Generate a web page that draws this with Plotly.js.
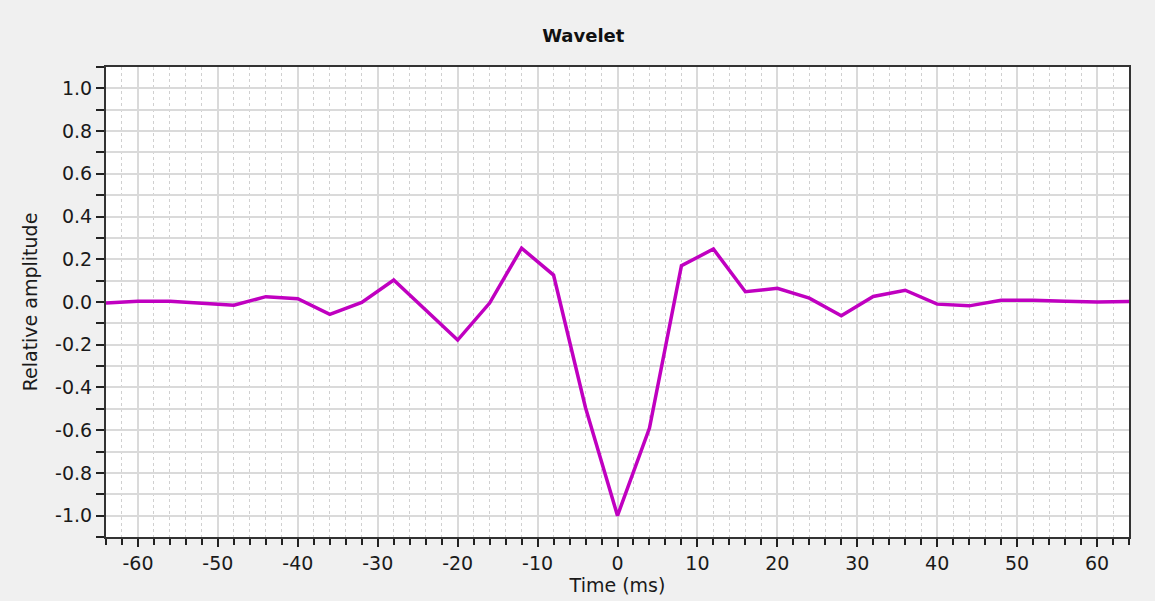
<!DOCTYPE html>
<html>
<head>
<meta charset="utf-8">
<script src="https://cdn.plot.ly/plotly-3.0.1.min.js"></script>
<style>
  html, body { margin: 0; padding: 0; background: #f0f0f0; }
  #chart { width: 1155px; height: 601px; }
</style>
</head>
<body>
<div id="chart"></div>
<script>
// Data
const timeMs = [-64, -60, -56, -52, -48, -44, -40, -36, -32, -28, -24, -20, -16, -12, -8, -4,
                0, 4, 8, 12, 16, 20, 24, 28, 32, 36, 40, 44, 48, 52, 56, 60, 64];
const amplitude = [-0.005, 0.003, 0.004, -0.005, -0.015, 0.025, 0.015, -0.058, -0.002, 0.103,
                   -0.035, -0.178, -0.005, 0.252, 0.126, -0.495, -1.0, -0.59, 0.17, 0.248,
                   0.048, 0.064, 0.018, -0.064, 0.026, 0.055, -0.01, -0.018, 0.008, 0.008,
                   0.003, 0.0, 0.002];
const xTickVals = [-60, -50, -40, -30, -20, -10, 0, 10, 20, 30, 40, 50, 60];
const xTickText = ["-60", "-50", "-40", "-30", "-20", "-10", "0", "10", "20", "30", "40", "50", "60"];
const yTickVals = [1.0, 0.8, 0.6, 0.4, 0.2, 0.0, -0.2, -0.4, -0.6, -0.8, -1.0];
const yTickText = ["1.0", "0.8", "0.6", "0.4", "0.2", "0.0", "-0.2", "-0.4", "-0.6", "-0.8", "-1.0"];

const font = "DejaVu Sans, Verdana, sans-serif";

const trace = {
  x: timeMs,
  y: amplitude,
  type: "scatter",
  mode: "lines",
  line: { color: "#c000c0", width: 3.5 },
  hoverinfo: "x+y"
};

const layout = {
  width: 1155,
  height: 601,
  paper_bgcolor: "#f0f0f0",
  plot_bgcolor: "#ffffff",
  margin: { l: 106, r: 26, t: 67, b: 64 },
  showlegend: false,
  font: { family: font, size: 19, color: "#1a1a1a" },
  title: {
    text: "<b>Wavelet</b>",
    font: { family: font, size: 18, color: "#111111" },
    x: 0.505, xref: "container", xanchor: "center",
    y: 0.94, yref: "container", yanchor: "middle"
  },
  xaxis: {
    range: [-64, 64],
    tickmode: "array",
    tickvals: xTickVals,
    ticktext: xTickText,
    ticks: "outside",
    ticklen: 8,
    tickwidth: 2,
    tickcolor: "#222222",
    showgrid: true,
    gridcolor: "#dadada",
    gridwidth: 2,
    zeroline: false,
    showline: true,
    linecolor: "#333333",
    linewidth: 2,
    mirror: true,
    tickfont: { family: font, size: 19, color: "#1a1a1a" },
    minor: {
      dtick: 2,
      tick0: 0,
      ticks: "outside",
      ticklen: 6,
      tickwidth: 2,
      tickcolor: "#222222",
      showgrid: true,
      gridcolor: "#d0d0d0",
      gridwidth: 1,
      griddash: "dot"
    },
    title: {
      text: "Time (ms)",
      font: { family: font, size: 19, color: "#1a1a1a" },
      standoff: 4
    }
  },
  yaxis: {
    range: [-1.1, 1.1],
    tickmode: "array",
    tickvals: yTickVals,
    ticktext: yTickText,
    ticks: "outside",
    ticklen: 8,
    tickwidth: 2,
    tickcolor: "#222222",
    showgrid: true,
    gridcolor: "#dadada",
    gridwidth: 2,
    zeroline: false,
    showline: true,
    linecolor: "#333333",
    linewidth: 2,
    mirror: true,
    tickfont: { family: font, size: 19, color: "#1a1a1a" },
    minor: {
      dtick: 0.1,
      tick0: 0,
      ticks: "outside",
      ticklen: 8,
      tickwidth: 2,
      tickcolor: "#222222",
      showgrid: true,
      gridcolor: "#dadada",
      gridwidth: 2
    },
    title: {
      text: "Relative amplitude",
      font: { family: font, size: 19, color: "#1a1a1a" },
      standoff: 12
    }
  }
};

Plotly.newPlot("chart", [trace], layout, { displayModeBar: false });
</script>
</body>
</html>
